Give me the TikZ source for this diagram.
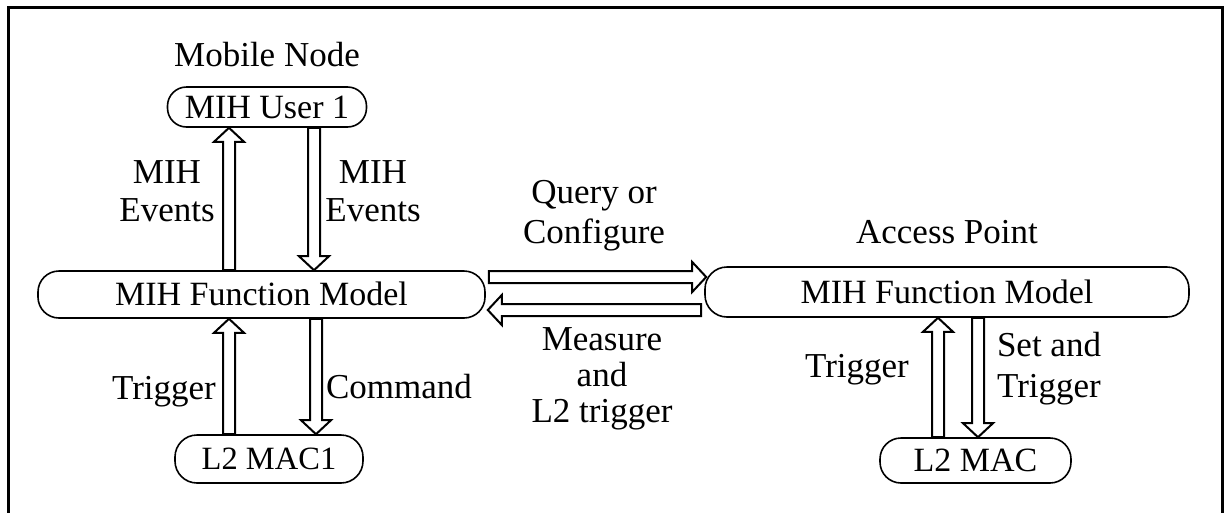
\documentclass[tikz,border=0pt]{standalone}
\usepackage{fontspec}
\setmainfont{Liberation Serif}
\usetikzlibrary{calc}
\begin{document}
\begin{tikzpicture}[x=1pt,y=-1pt,
  box/.style={draw, line width=1.6pt, rounded corners=#1, inner sep=0pt,
    text height=22.5pt, text depth=0pt, font=\fontsize{34}{38}\selectfont},
  lbl/.style={inner sep=0pt, anchor=base, align=center, font=\fontsize{35}{38}\selectfont},
  % hollow block arrow along the vertical through the start point
  vblock/.style={draw, line width=2pt, fill=white, to path={
    let \p1=(\tikztostart), \p2=(\tikztotarget), \n1={(\y2-\y1)/abs(\y2-\y1)} in
    (\x1-6pt,\y1) -- (\x1-6pt,{\y2-(\n1)*14pt}) -- (\x1-15pt,{\y2-(\n1)*14pt}) -- (\x1,\y2)
    -- (\x1+15pt,{\y2-(\n1)*14pt}) -- (\x1+6pt,{\y2-(\n1)*14pt}) -- (\x1+6pt,\y1) -- cycle}},
  % hollow block arrow along the horizontal through the start point
  hblock/.style={draw, line width=2pt, fill=white, to path={
    let \p1=(\tikztostart), \p2=(\tikztotarget), \n1={(\x2-\x1)/abs(\x2-\x1)} in
    (\x1,\y1-6pt) -- ({\x2-(\n1)*14pt},\y1-6pt) -- ({\x2-(\n1)*14pt},\y1-15pt) -- (\x2,\y1)
    -- ({\x2-(\n1)*14pt},\y1+15pt) -- ({\x2-(\n1)*14pt},\y1+6pt) -- (\x1,\y1+6pt) -- cycle}}
]
\useasboundingbox (0,0) rectangle (1224,512);
\draw[line width=3pt] (8.5,7.5) rectangle (1222.5,516);

% mobile node side
\node[lbl] (mn) at (267,66) {Mobile Node};
\node[box=19pt, minimum width=199pt, minimum height=40pt] (user) at (267,107) {MIH User 1};
\node[box=21pt, minimum width=447pt, minimum height=47pt] (fmlL) at (261.5,294.5) {MIH Function Model};
\node[box=22pt, minimum width=188pt, minimum height=48pt, font=\fontsize{32.5}{36}\selectfont, text height=21.5pt] (mac1) at (269,459) {L2 MAC1};

\draw[vblock] ([xshift=-32.5pt]fmlL.north) to (user.south);
\draw[vblock] ([xshift=47pt]user.south) to (fmlL.north);
\draw[vblock] ([xshift=-40pt]mac1.north) to (fmlL.south);
\draw[vblock] ([xshift=54.5pt]fmlL.south) to (mac1.north);

% a multi-line label sits on the baseline of its last line
\node[lbl] (evup) at (167,221) {MIH\\Events};
\node[lbl] (evdn) at (373,221) {MIH\\Events};
\node[lbl] (trgL) at (164,399) {Trigger};
\node[lbl] (cmd) at (399,398) {Command};

% access point side
\node[lbl] (ap) at (947,243) {Access Point};
\node[box=22pt, minimum width=484pt, minimum height=50pt] (fmlR) at (947,292) {MIH Function Model};
\node[box=21pt, minimum width=191pt, minimum height=45pt] (mac) at (975.5,460.5) {L2 MAC};

\draw[vblock] ([xshift=-37.5pt]mac.north) to (fmlR.south);
\draw[vblock] ([xshift=31pt]fmlR.south) to (mac.north);

\node[lbl] (trgR) at (857,377) {Trigger};
\node[lbl, font=\fontsize{35}{41}\selectfont] (set) at (1049,397) {Set and\\Trigger};

% links between the two function models
\draw[hblock] ([shift={(3pt,17.5pt)}]fmlL.east) to ([xshift=2pt]fmlR.west);
\draw[hblock] ([shift={(-3pt,-18pt)}]fmlR.west) to ([xshift=2pt]fmlL.east);

\node[lbl, font=\fontsize{35}{40}\selectfont] (qc) at (594,243) {Query or\\Configure};
\node[lbl, font=\fontsize{35}{36}\selectfont] (meas) at (602,422) {Measure\\and\\L2 trigger};
\end{tikzpicture}
\end{document}
